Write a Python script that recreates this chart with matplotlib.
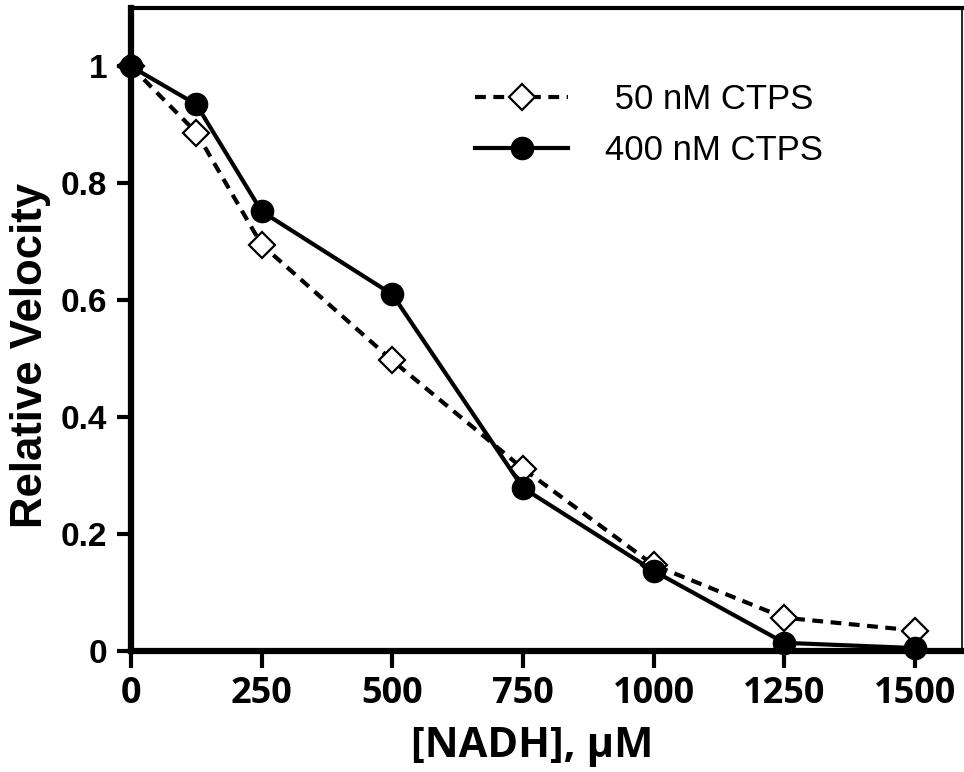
import matplotlib
matplotlib.use('Agg')
import matplotlib.pyplot as plt

# [NADH] in uM
nadh = [0, 125, 250, 500, 750, 1000, 1250, 1500]
# relative velocity
vel_50nm = [1.0, 0.887, 0.695, 0.497, 0.312, 0.147, 0.057, 0.035]
vel_400nm = [1.0, 0.935, 0.752, 0.610, 0.279, 0.137, 0.014, 0.005]

x_ticks = [0, 250, 500, 750, 1000, 1250, 1500]
y_ticks = [0, 0.2, 0.4, 0.6, 0.8, 1.0]
y_tick_labels = ['0', '0.2', '0.4', '0.6', '0.8', '1']

fig = plt.figure(figsize=(9.64, 7.72), dpi=100)
ax = fig.add_axes([131 / 964, 1 - 651 / 772, (962 - 131) / 964, (651 - 8) / 772])

ax.plot(nadh, vel_50nm, color='black', lw=3.0, ls=(0, (2.6, 1.8)),
        marker='D', ms=13.5, mfc='white', mec='black', mew=1.6,
        clip_on=False, zorder=5, label=' 50 nM CTPS')
ax.plot(nadh, vel_400nm, color='black', lw=3.0, ls='-',
        marker='o', ms=16, mfc='black', mec='black',
        clip_on=False, zorder=6, label='400 nM CTPS')

ax.set_xlim(0, 1590)
ax.set_ylim(0, 1.1)

ax.set_xticks(x_ticks)
ax.set_xticklabels([str(t) for t in x_ticks], family='Open Sans',
                   fontweight='bold', fontsize=26)
ax.set_yticks(y_ticks)
ax.set_yticklabels(y_tick_labels, family='Liberation Sans',
                   fontweight='bold', fontsize=24)
ax.tick_params(axis='x', direction='out', length=12, width=3, pad=6)
ax.tick_params(axis='y', direction='out', length=10, width=3, pad=7)

for side, w in [('left', 4.5), ('bottom', 4.5), ('top', 3.0), ('right', 1.2)]:
    ax.spines[side].set_linewidth(w)
    ax.spines[side].set_color('black')

ax.set_xlabel('[NADH], \u03bcM', family='Open Sans', fontweight='bold',
              fontsize=30)
ax.xaxis.set_label_coords(0.483, -0.116)
ax.set_ylabel('Relative Velocity', family='Liberation Sans', fontweight='bold',
              fontsize=31.5)
ax.yaxis.set_label_coords(-0.096, 0.46)

leg = fig.legend(loc='center', bbox_to_anchor=(0.673, 0.838), frameon=False,
                 prop={'family': ['Liberation Sans', 'DejaVu Sans'], 'size': 25},
                 handlelength=2.7, handletextpad=1.05, labelspacing=0.5)

fig.savefig('out.png', dpi=100)
